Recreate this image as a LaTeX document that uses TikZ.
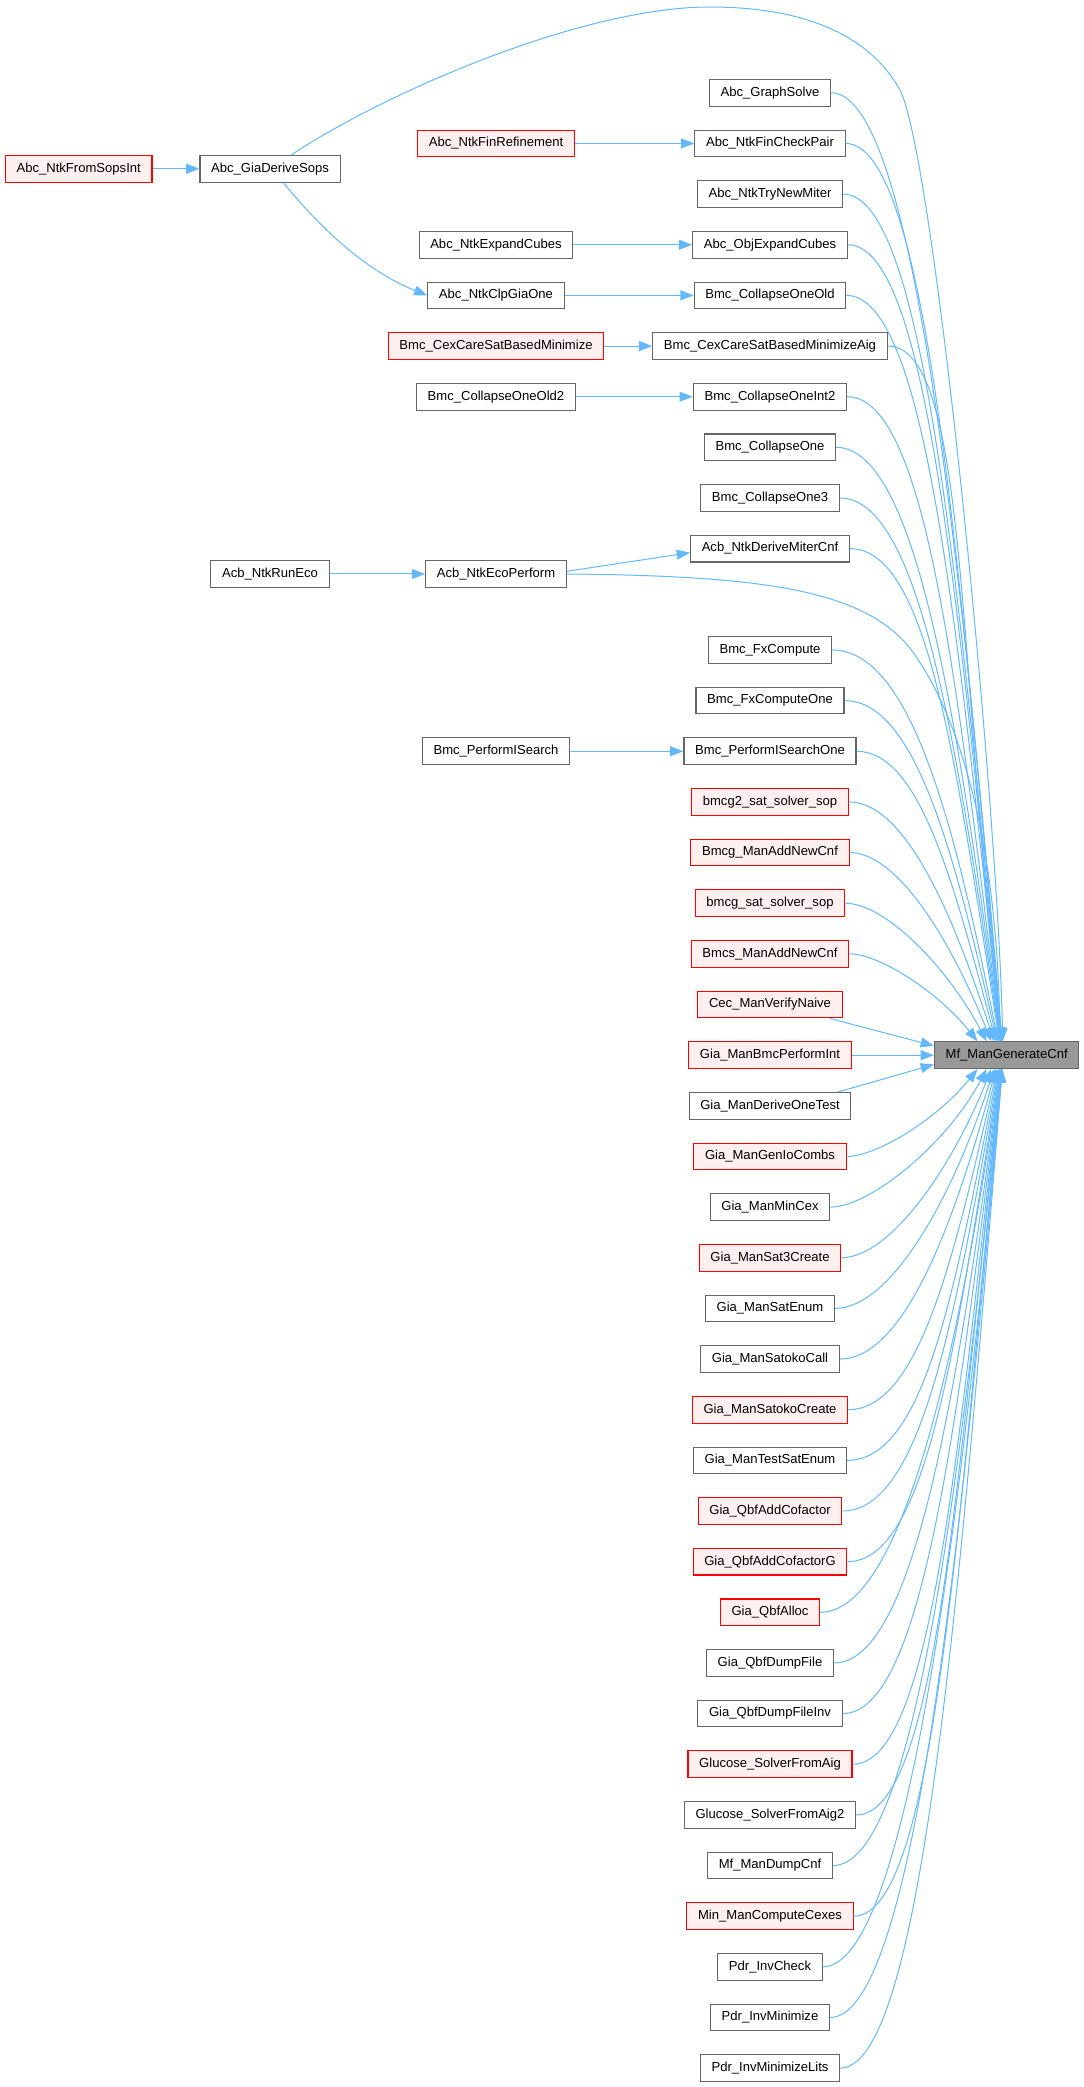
\documentclass[tikz,border=0pt]{standalone}
\usepackage{fontspec}
\setmainfont{Liberation Sans}
\usepackage{xcolor}
\usetikzlibrary{arrows.meta}
\newcommand{\rowh}{50.65}
\newcommand{\ytop}{92.8}
\newcommand{\colsrc}{78.7}
\newcommand{\colone}{270}
\newcommand{\coltwo}{496}
\newcommand{\colmid}{770}
\newcommand{\coltgt}{1006.7}
\definecolor{callblue}{HTML}{63B8FF}
\definecolor{boxgrey}{HTML}{666666}
\definecolor{boxred}{HTML}{FF0000}
\definecolor{boxpink}{HTML}{FFF0F0}
\definecolor{boxdark}{HTML}{999999}

\begin{document}
\begin{tikzpicture}[x=0.75pt, y=-0.75pt,
    fn/.style={draw=boxgrey, fill=white, line width=0.8pt, font=\fontsize{9.8}{12}\selectfont,
        minimum height=20pt, inner xsep=8.4pt, inner ysep=0pt, text height=7pt, text depth=2pt},
    fnred/.style={fn, draw=boxred, fill=boxpink},
    fnmain/.style={fn, fill=boxdark},
    call/.style={draw=callblue, line width=0.75pt, -{Triangle[length=10pt, width=7.5pt]}}]
        \useasboundingbox (0,0) rectangle (1083,2087);

        % target
        \node[fnmain] (mf) at (\coltgt, \ytop+\rowh*19) {Mf\_ManGenerateCnf};

        % left columns
        \node[fnred] (fsi) at (\colsrc, \ytop+\rowh*1.5) {Abc\_NtkFromSopsInt};
        \node[fn] (gds) at (\colone, \ytop+\rowh*1.5) {Abc\_GiaDeriveSops};
        \node[fnred] (fre) at (\coltwo, \ytop+\rowh*1) {Abc\_NtkFinRefinement};
        \node[fn] (nec) at (\coltwo, \ytop+\rowh*3) {Abc\_NtkExpandCubes};
        \node[fn] (clp) at (\coltwo, \ytop+\rowh*4) {Abc\_NtkClpGiaOne};
        \node[fnred] (ccm) at (\coltwo, \ytop+\rowh*5) {Bmc\_CexCareSatBasedMinimize};
        \node[fn] (old2) at (\coltwo, \ytop+\rowh*6) {Bmc\_CollapseOneOld2};
        \node[fn] (runeco) at (\colone, \ytop+\rowh*9.5) {Acb\_NtkRunEco};
        \node[fn] (eco) at (\coltwo, \ytop+\rowh*9.5) {Acb\_NtkEcoPerform};
        \node[fn] (isr) at (\coltwo, \ytop+\rowh*13) {Bmc\_PerformISearch};

        % callers of the target
        \foreach \k/\fname/\kind in {0/Abc\_GraphSolve/fn, 1/Abc\_NtkFinCheckPair/fn,
            2/Abc\_NtkTryNewMiter/fn, 3/Abc\_ObjExpandCubes/fn, 4/Bmc\_CollapseOneOld/fn,
            5/Bmc\_CexCareSatBasedMinimizeAig/fn, 6/Bmc\_CollapseOneInt2/fn, 7/Bmc\_CollapseOne/fn,
            8/Bmc\_CollapseOne3/fn, 9/Acb\_NtkDeriveMiterCnf/fn, 11/Bmc\_FxCompute/fn,
            12/Bmc\_FxComputeOne/fn, 13/Bmc\_PerformISearchOne/fn, 14/bmcg2\_sat\_solver\_sop/fnred,
            15/Bmcg\_ManAddNewCnf/fnred, 16/bmcg\_sat\_solver\_sop/fnred, 17/Bmcs\_ManAddNewCnf/fnred,
            18/Cec\_ManVerifyNaive/fnred, 19/Gia\_ManBmcPerformInt/fnred, 20/Gia\_ManDeriveOneTest/fn,
            21/Gia\_ManGenIoCombs/fnred, 22/Gia\_ManMinCex/fn, 23/Gia\_ManSat3Create/fnred,
            24/Gia\_ManSatEnum/fn, 25/Gia\_ManSatokoCall/fn, 26/Gia\_ManSatokoCreate/fnred,
            27/Gia\_ManTestSatEnum/fn, 28/Gia\_QbfAddCofactor/fnred, 29/Gia\_QbfAddCofactorG/fnred,
            30/Gia\_QbfAlloc/fnred, 31/Gia\_QbfDumpFile/fn, 32/Gia\_QbfDumpFileInv/fn,
            33/Glucose\_SolverFromAig/fnred, 34/Glucose\_SolverFromAig2/fn, 35/Mf\_ManDumpCnf/fn,
            36/Min\_ManComputeCexes/fnred, 37/Pdr\_InvCheck/fn, 38/Pdr\_InvMinimize/fn,
            39/Pdr\_InvMinimizeLits/fn} {
            \node[\kind] (m\k) at (\colmid, \ytop+\rowh*\k) {\fname};
            \pgfmathtruncatemacro\dist{19-\k}
            \pgfmathsetmacro\hor{min(80,15+8*abs(\dist))}
            \ifnum\dist>1
                \pgfmathsetmacro\dxs{(-1.7-55/\dist)*0.75}
                \pgfmathsetmacro\ctlb{0.55*(1041.7-\ytop-\rowh*\k)}
                \pgfmathsetmacro\ctla{\ctlb*1.6/\dist}
                \draw[call] (m\k.east) .. controls +(\hor,0) and +(-\ctla,-\ctlb) .. ([xshift=\dxs pt]mf.north);
            \fi
            \ifnum\dist<-1
                \pgfmathsetmacro\dxs{(-1.7+55/\dist)*0.75}
                \pgfmathsetmacro\ctlb{0.55*(\ytop+\rowh*\k-1068.7)}
                \pgfmathsetmacro\ctla{-\ctlb*1.6/\dist}
                \draw[call] (m\k.east) .. controls +(\hor,0) and +(-\ctla,\ctlb) .. ([xshift=\dxs pt]mf.south);
            \fi
        }

        % next to the target
        \draw[call] ([xshift=-10pt]m18.south east) -- ([yshift=7pt]mf.west);
        \draw[call] (m19.east) -- (mf.west);
        \draw[call] ([xshift=-10pt]m20.north east) -- ([yshift=-7pt]mf.west);

        % long calls
        \draw[call] ([xshift=16pt]gds.north) .. controls +(90,-60) and +(-130,0) .. (710,7)
            .. controls +(110,0) and +(-25,-45) .. (900,90)
            .. controls +(35,70) and +(-5,-240) .. ([xshift=-3pt]mf.north);
        \draw[call] (eco.east) .. controls +(200,2) and +(-45,-65) .. (915,655)
            .. controls +(45,65) and +(-3,-200) .. ([xshift=-5pt]mf.north);

        % short calls
        \draw[call] (fsi) -- (gds);
        \draw[call] ([xshift=10pt]gds.south) .. controls +(45,55) and +(-55,-22) .. (clp.west);
        \draw[call] (fre) -- (m1);
        \draw[call] (nec) -- (m3);
        \draw[call] (clp) -- (m4);
        \draw[call] (ccm) -- (m5);
        \draw[call] (old2) -- (m6);
        \draw[call] (runeco) -- (eco);
        \draw[call] ([yshift=2pt]eco.east) -- ([yshift=-3pt]m9.west);
        \draw[call] (isr) -- (m13);
    \end{tikzpicture}
\end{document}
